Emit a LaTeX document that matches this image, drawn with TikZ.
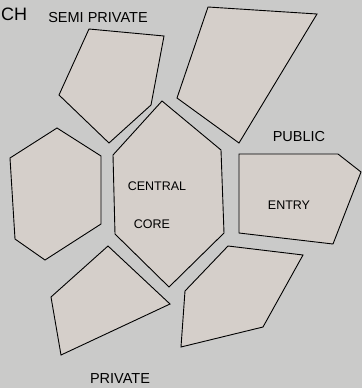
\documentclass[tikz,border=0pt]{standalone}
\usepackage{fontspec}
\setmainfont{Liberation Sans}
\definecolor{paper}{RGB}{202,202,201}
\definecolor{card}{RGB}{213,207,202}
\tikzset{zone/.style={draw=black,fill=card,line width=0.9pt,line join=miter},
  tag/.style={font=\fontsize{14.5}{16}\selectfont,inner sep=0pt},
  intag/.style={font=\fontsize{12.5}{14}\selectfont,inner sep=0pt}}

\begin{document}
\begin{tikzpicture}[x=1pt,y=-1pt]
    % fix the frame and draw the paper
    \useasboundingbox (0,0) rectangle (362,388);
    \fill[paper] (0,0) rectangle (362,388);
    % draw the semi private zone
    \draw[zone] (89,29) -- (164,36) -- (151,105) -- (109,143) -- (59,95) -- cycle;
    % draw the upper right zone
    \draw[zone] (208,7) -- (317,14) -- (239,143) -- (177,98) -- cycle;
    % draw the central core
    \draw[zone] (162,101) -- (221,150) -- (224,233) -- (169,287) -- (115,234) -- (113,155) -- cycle;
    % draw the left zone
    \draw[zone] (57,128) -- (101,156) -- (101,224) -- (45,260) -- (15,239) -- (10,158) -- cycle;
    % draw the entry
    \draw[zone] (239,154) -- (338,154) -- (361,172) -- (333,244) -- (239,233) -- cycle;
    % draw the private zone
    \draw[zone] (108,246) -- (170,304) -- (61,355) -- (51,297) -- cycle;
    % draw the lower right zone
    \draw[zone] (228,246) -- (303,255) -- (263,327) -- (181,347) -- (185,291) -- cycle;
    % write the labels
    \node[tag,font=\fontsize{18}{20}\selectfont,anchor=west] (approach) at (1,14) {CH};
    \node[tag] (semi) at (98,18) {SEMI PRIVATE};
    \node[tag] (public) at (299,137) {PUBLIC};
    \node[intag] (central) at (157,186) {CENTRAL};
    \node[intag] (core) at (152,224) {CORE};
    \node[intag] (entry) at (289,205) {ENTRY};
    \node[tag] (private) at (120,379) {PRIVATE};
\end{tikzpicture}
\end{document}
